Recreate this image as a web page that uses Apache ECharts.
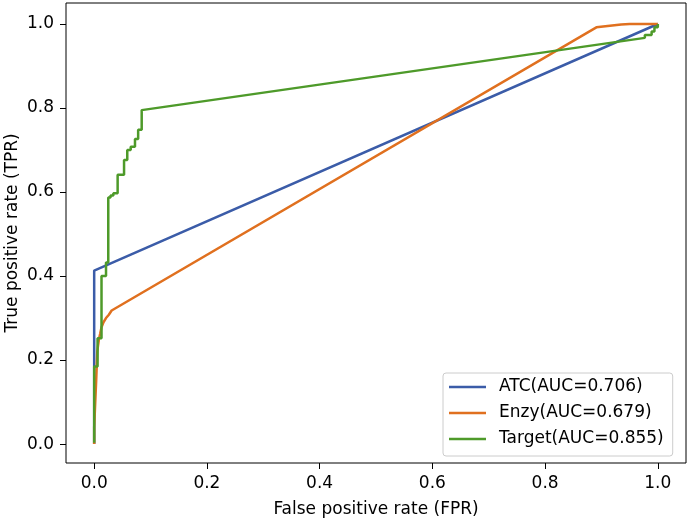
<!DOCTYPE html>
<html>
<head>
<meta charset="utf-8">
<script src="https://cdn.jsdelivr.net/npm/echarts@6/dist/echarts.min.js"></script>
<style>
html,body{margin:0;padding:0;background:#fff;}
#chart{width:688px;height:520px;}
</style>
</head>
<body>
<div id="chart"></div>
<script>
var tickValues = [0, 0.2, 0.4, 0.6, 0.8, 1.0];

var atcFpr = [0, 0, 1];
var atcTpr = [0, 0.413, 1];

var enzyFpr = [0, 0, 0.0035, 0.0035, 0.0055, 0.0055, 0.007, 0.0085, 0.0105, 0.013, 0.0165, 0.021, 0.026, 0.031, 0.891, 0.915, 0.935, 0.95, 1];
var enzyTpr = [0, 0.04, 0.04, 0.15, 0.15, 0.22, 0.236, 0.25, 0.262, 0.278, 0.29, 0.30, 0.308, 0.318, 0.992, 0.996, 0.999, 1.0, 1.0];

var targetFpr = [0, 0, 0.006, 0.006, 0.013, 0.013, 0.021, 0.021, 0.025, 0.025, 0.029, 0.029, 0.034, 0.034, 0.0416, 0.0416, 0.053, 0.053, 0.0587, 0.0587, 0.0648, 0.0648, 0.0724, 0.0724, 0.078, 0.078, 0.0843, 0.0843, 0.977, 0.977, 0.989, 0.989, 0.994, 0.994, 1.0, 1.0];
var targetTpr = [0.003, 0.185, 0.185, 0.252, 0.252, 0.40, 0.40, 0.432, 0.432, 0.587, 0.587, 0.592, 0.592, 0.597, 0.597, 0.641, 0.641, 0.676, 0.676, 0.700, 0.700, 0.708, 0.708, 0.726, 0.726, 0.748, 0.748, 0.795, 0.967, 0.974, 0.974, 0.982, 0.982, 0.992, 0.992, 1.0];

var seriesNames = ['ATC(AUC=0.706)', 'Enzy(AUC=0.679)', 'Target(AUC=0.855)'];
var seriesColors = ['#3b5ca8', '#e0701f', '#4e9a2a'];

function pairs(xs, ys) {
  var out = [];
  for (var i = 0; i < xs.length; i++) out.push([xs[i], ys[i]]);
  return out;
}

var chart = echarts.init(document.getElementById('chart'), null, {renderer: 'canvas'});
var font = 'DejaVu Sans';
var fs = 17;
var mkSeries = function (name, data, color) {
  return {
    name: name,
    type: 'line',
    data: data,
    symbol: 'none',
    showSymbol: false,
    animation: false,
    lineStyle: {color: color, width: 2.5},
    itemStyle: {color: color}
  };
};

chart.setOption({
  animation: false,
  backgroundColor: '#ffffff',
  textStyle: {fontFamily: font},
  grid: {
    left: 66, right: 2, top: 3, bottom: 57,
    containLabel: false,
    outerBoundsMode: 'none',
    show: true, borderColor: '#000000', borderWidth: 1, backgroundColor: 'transparent'
  },
  xAxis: {
    type: 'value',
    min: -0.05, max: 1.05,
    name: 'False positive rate (FPR)',
    nameLocation: 'middle',
    nameGap: 38,
    nameTextStyle: {fontFamily: font, fontSize: fs, color: '#000'},
    axisLine: {show: false, onZero: false},
    axisTick: {show: true, length: 6, inside: false, customValues: tickValues, lineStyle: {color: '#000', width: 1}},
    axisLabel: {show: true, customValues: tickValues, margin: 12, fontFamily: font, fontSize: fs, color: '#000',
      formatter: function (v) { return v.toFixed(1); }},
    splitLine: {show: false}
  },
  yAxis: {
    type: 'value',
    min: -0.045, max: 1.05,
    name: 'True positive rate (TPR)',
    nameLocation: 'middle',
    nameGap: 45,
    nameMoveOverlap: false,
    nameRotate: 90,
    nameTextStyle: {fontFamily: font, fontSize: fs, color: '#000'},
    axisLine: {show: false, onZero: false},
    axisTick: {show: true, length: 6, inside: false, customValues: tickValues, lineStyle: {color: '#000', width: 1}},
    axisLabel: {show: true, customValues: tickValues, margin: 12, fontFamily: font, fontSize: fs, color: '#000',
      formatter: function (v) { return v.toFixed(1); }},
    splitLine: {show: false}
  },
  legend: {
    orient: 'vertical',
    left: 443,
    top: 373,
    data: seriesNames,
    icon: 'rect',
    itemWidth: 37,
    itemHeight: 2.5,
    itemGap: 8,
    padding: [5, 9, 8, 6],
    backgroundColor: 'rgba(255,255,255,0.8)',
    borderColor: '#cccccc',
    borderWidth: 1,
    borderRadius: 3,
    textStyle: {fontFamily: font, fontSize: fs, color: '#000', lineHeight: 18, padding: [0, 0, 0, 8]}
  },
  series: [
    mkSeries(seriesNames[0], pairs(atcFpr, atcTpr), seriesColors[0]),
    mkSeries(seriesNames[1], pairs(enzyFpr, enzyTpr), seriesColors[1]),
    mkSeries(seriesNames[2], pairs(targetFpr, targetTpr), seriesColors[2])
  ]
});
</script>
</body>
</html>
